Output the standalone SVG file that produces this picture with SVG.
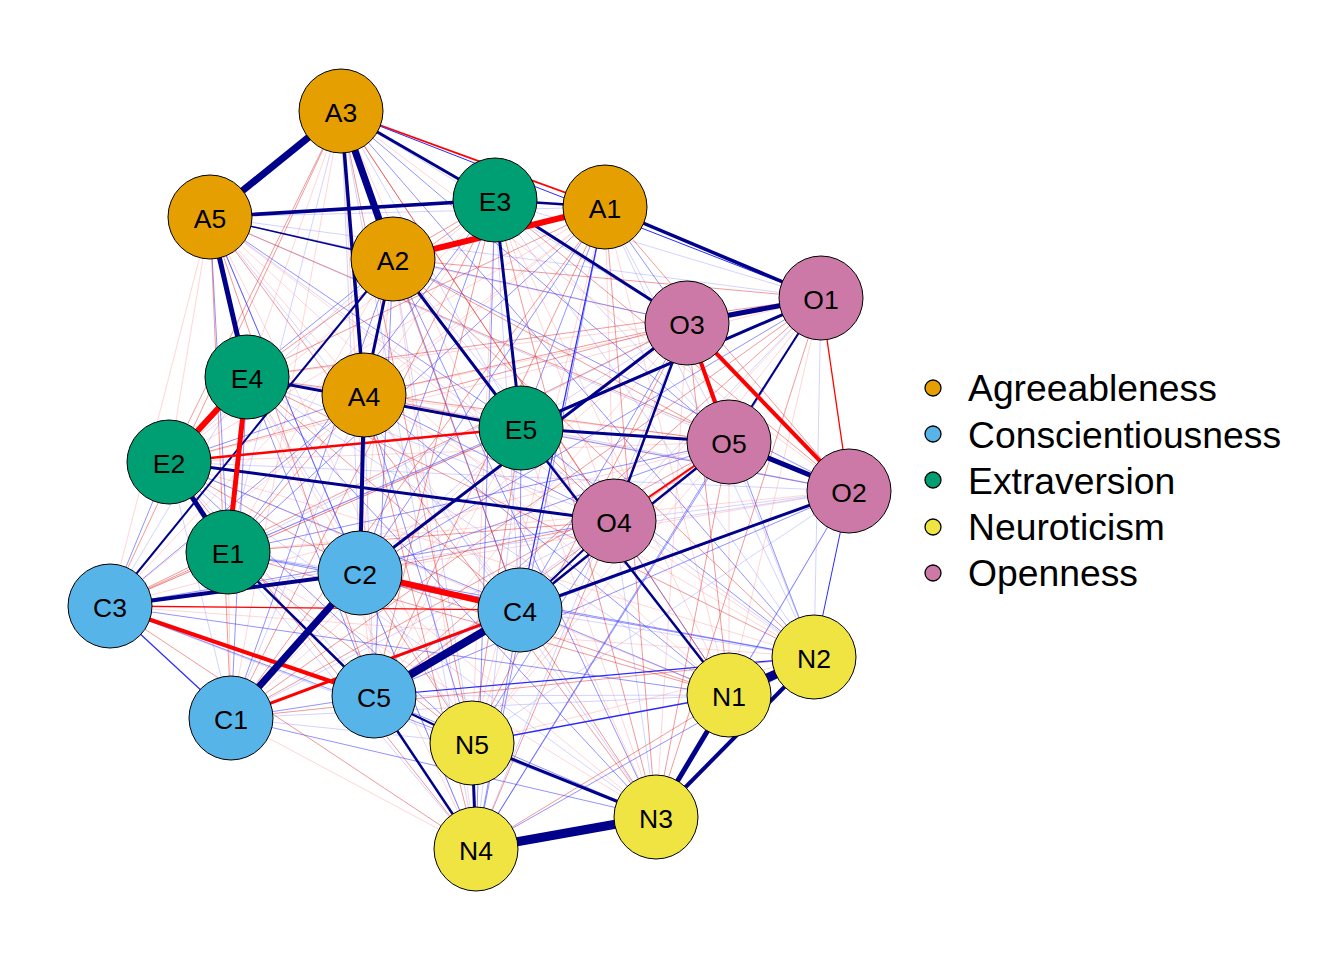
<svg xmlns="http://www.w3.org/2000/svg" width="1344" height="960" viewBox="0 0 1344 960">
<style>
.f{fill:none;stroke-width:1}
.b1{stroke:#3a3aff;stroke-opacity:.55}
.b2{stroke:#8c8cff;stroke-opacity:.38}
.r1{stroke:#e02020;stroke-opacity:.45}
.r2{stroke:#ff8080;stroke-opacity:.32}
.p{stroke:#00008B}
.pl{stroke:#2a2aff}
.n{stroke:#FF0000}
.node circle{stroke:#000;stroke-width:1}
.node text{font-family:"Liberation Sans",Arial,sans-serif;font-size:26.5px;text-anchor:middle;fill:#000}
.A circle{fill:#E69F00}.C circle{fill:#56B4E9}.E circle{fill:#009E73}.N circle{fill:#F0E442}.O circle{fill:#CC79A7}
.leg text{font-family:"Liberation Sans",Arial,sans-serif;font-size:37.3px;fill:#000}
.leg circle{stroke:#000;stroke-width:1.3}
</style>
<rect width="1344" height="960" fill="#fff"/>
<g id="connectors">
<path class="f b2" d="M605 207L210 217M605 207L814 657M605 207L729 442M393 259L169 462M393 259L729 695M393 259L472 743M393 259L614 521M341 111L360 573M341 111L228 552M341 111L521 428M341 111L476 849M341 111L687 323M364 395L231 718M364 395L374 696M364 395L247 377M364 395L656 817M364 395L849 491M210 217L520 610M210 217L814 657M210 217L821 298M210 217L729 442M231 718L169 462M231 718L729 695M231 718L472 743M231 718L614 521M360 573L228 552M360 573L521 428M360 573L476 849M110 606L247 377M110 606L656 817M110 606L849 491M520 610L495 200M520 610L814 657M520 610L821 298M374 696L169 462M374 696L729 695M374 696L614 521M228 552L521 428M228 552L476 849M228 552L687 323M169 462L656 817M169 462L849 491M495 200L814 657M495 200L821 298M495 200L729 442M247 377L729 695M247 377L472 743M247 377L614 521M521 428L476 849M521 428L687 323M729 695L849 491M814 657L821 298M814 657L729 442M656 817L614 521M476 849L687 323M472 743L849 491M849 491L614 521"/>
<path class="f r2" d="M605 207L364 395M605 207L110 606M605 207L169 462M605 207L729 695M605 207L472 743M605 207L614 521M393 259L360 573M393 259L228 552M393 259L476 849M393 259L687 323M341 111L231 718M341 111L374 696M341 111L247 377M341 111L656 817M341 111L849 491M364 395L210 217M364 395L520 610M364 395L495 200M364 395L814 657M364 395L821 298M364 395L729 442M210 217L110 606M210 217L169 462M210 217L729 695M210 217L472 743M210 217L614 521M231 718L228 552M231 718L521 428M231 718L476 849M231 718L687 323M360 573L374 696M360 573L247 377M360 573L656 817M360 573L849 491M110 606L495 200M110 606L814 657M110 606L821 298M110 606L729 442M520 610L169 462M520 610L729 695M520 610L472 743M374 696L521 428M374 696L687 323M228 552L656 817M228 552L849 491M169 462L495 200M169 462L814 657M169 462L821 298M169 462L729 442M495 200L729 695M495 200L472 743M495 200L614 521M247 377L476 849M247 377L687 323M521 428L656 817M521 428L849 491M729 695L821 298M729 695L729 442M814 657L472 743M814 657L614 521M656 817L687 323M472 743L821 298M472 743L729 442M821 298L614 521"/>
<path class="f b1" d="M605 207L360 573M605 207L228 552M605 207L521 428M605 207L476 849M605 207L687 323M393 259L231 718M393 259L374 696M393 259L247 377M393 259L656 817M393 259L849 491M341 111L520 610M341 111L814 657M341 111L729 442M364 395L110 606M364 395L169 462M364 395L729 695M364 395L472 743M364 395L614 521M210 217L360 573M210 217L228 552M210 217L521 428M210 217L476 849M210 217L687 323M231 718L374 696M231 718L247 377M231 718L656 817M231 718L849 491M360 573L495 200M360 573L814 657M360 573L821 298M360 573L729 442M110 606L169 462M110 606L729 695M110 606L472 743M110 606L614 521M520 610L228 552M520 610L521 428M520 610L476 849M520 610L687 323M374 696L247 377M374 696L656 817M374 696L849 491M228 552L495 200M228 552L814 657M228 552L821 298M228 552L729 442M169 462L729 695M169 462L472 743M495 200L476 849M247 377L656 817M247 377L849 491M521 428L814 657M729 695L614 521M814 657L476 849M814 657L687 323M656 817L849 491M476 849L821 298M476 849L729 442M472 743L614 521"/>
<path class="f r1" d="M605 207L231 718M605 207L374 696M605 207L247 377M605 207L656 817M605 207L849 491M393 259L520 610M393 259L495 200M393 259L814 657M393 259L821 298M393 259L729 442M341 111L110 606M341 111L169 462M341 111L729 695M341 111L472 743M341 111L614 521M364 395L228 552M364 395L521 428M364 395L476 849M364 395L687 323M210 217L231 718M210 217L374 696M210 217L656 817M210 217L849 491M231 718L495 200M231 718L814 657M231 718L821 298M231 718L729 442M360 573L169 462M360 573L729 695M360 573L472 743M360 573L614 521M110 606L228 552M110 606L521 428M110 606L476 849M110 606L687 323M520 610L247 377M520 610L656 817M374 696L495 200M374 696L821 298M374 696L729 442M228 552L729 695M228 552L472 743M228 552L614 521M169 462L476 849M169 462L687 323M495 200L247 377M495 200L656 817M495 200L849 491M247 377L814 657M247 377L821 298M247 377L729 442M521 428L472 743M521 428L614 521M729 695L476 849M729 695L687 323M656 817L821 298M656 817L729 442M476 849L614 521M472 743L687 323"/>
<line class="n" x1="341" y1="111" x2="605" y2="207" stroke-width="1.8"/>
<line class="pl" x1="341" y1="111" x2="821" y2="298" stroke-width="1"/>
<line class="pl" x1="814" y1="657" x2="849" y2="491" stroke-width="1"/>
<line class="n" x1="821" y1="298" x2="849" y2="491" stroke-width="1.3"/>
<line class="pl" x1="605" y1="207" x2="520" y2="610" stroke-width="1.2"/>
<line class="pl" x1="110" y1="606" x2="231" y2="718" stroke-width="1.2"/>
<line class="pl" x1="374" y1="696" x2="814" y2="657" stroke-width="1.2"/>
<line class="pl" x1="472" y1="743" x2="729" y2="695" stroke-width="1.5"/>
<line class="p" x1="210" y1="217" x2="393" y2="259" stroke-width="1.5"/>
<line class="n" x1="110" y1="606" x2="520" y2="610" stroke-width="1.3"/>
<line class="n" x1="614" y1="521" x2="729" y2="442" stroke-width="2"/>
<line class="p" x1="821" y1="298" x2="729" y2="442" stroke-width="2"/>
<line class="p" x1="520" y1="610" x2="614" y2="521" stroke-width="2"/>
<line class="p" x1="110" y1="606" x2="393" y2="259" stroke-width="2"/>
<line class="p" x1="374" y1="696" x2="472" y2="743" stroke-width="2"/>
<line class="n" x1="169" y1="462" x2="521" y2="428" stroke-width="2.5"/>
<line class="n" x1="231" y1="718" x2="520" y2="610" stroke-width="3"/>
<line class="p" x1="228" y1="552" x2="374" y2="696" stroke-width="2.5"/>
<line class="p" x1="374" y1="696" x2="476" y2="849" stroke-width="2.5"/>
<line class="p" x1="521" y1="428" x2="729" y2="695" stroke-width="2.5"/>
<line class="p" x1="520" y1="610" x2="729" y2="442" stroke-width="2.5"/>
<line class="p" x1="687" y1="323" x2="614" y2="521" stroke-width="2.5"/>
<line class="p" x1="495" y1="200" x2="605" y2="207" stroke-width="2.5"/>
<line class="p" x1="341" y1="111" x2="495" y2="200" stroke-width="3"/>
<line class="p" x1="393" y1="259" x2="521" y2="428" stroke-width="3"/>
<line class="p" x1="393" y1="259" x2="364" y2="395" stroke-width="3"/>
<line class="p" x1="495" y1="200" x2="521" y2="428" stroke-width="3"/>
<line class="p" x1="495" y1="200" x2="687" y2="323" stroke-width="3"/>
<line class="p" x1="821" y1="298" x2="521" y2="428" stroke-width="3"/>
<line class="p" x1="247" y1="377" x2="521" y2="428" stroke-width="3"/>
<line class="p" x1="169" y1="462" x2="614" y2="521" stroke-width="3"/>
<line class="p" x1="520" y1="610" x2="849" y2="491" stroke-width="3"/>
<line class="p" x1="521" y1="428" x2="729" y2="442" stroke-width="3"/>
<line class="p" x1="687" y1="323" x2="360" y2="573" stroke-width="3"/>
<line class="p" x1="472" y1="743" x2="476" y2="849" stroke-width="3"/>
<line class="p" x1="472" y1="743" x2="656" y2="817" stroke-width="3"/>
<line class="p" x1="605" y1="207" x2="821" y2="298" stroke-width="3.5"/>
<line class="p" x1="341" y1="111" x2="364" y2="395" stroke-width="3.5"/>
<line class="p" x1="210" y1="217" x2="495" y2="200" stroke-width="3.5"/>
<line class="p" x1="364" y1="395" x2="360" y2="573" stroke-width="4"/>
<line class="p" x1="110" y1="606" x2="360" y2="573" stroke-width="4"/>
<line class="n" x1="110" y1="606" x2="374" y2="696" stroke-width="4"/>
<line class="n" x1="687" y1="323" x2="729" y2="442" stroke-width="4"/>
<line class="n" x1="687" y1="323" x2="849" y2="491" stroke-width="4"/>
<line class="p" x1="656" y1="817" x2="814" y2="657" stroke-width="4"/>
<line class="p" x1="210" y1="217" x2="247" y2="377" stroke-width="5"/>
<line class="p" x1="687" y1="323" x2="821" y2="298" stroke-width="5"/>
<line class="p" x1="169" y1="462" x2="228" y2="552" stroke-width="5"/>
<line class="n" x1="247" y1="377" x2="228" y2="552" stroke-width="5"/>
<line class="p" x1="729" y1="442" x2="849" y2="491" stroke-width="5"/>
<line class="p" x1="656" y1="817" x2="729" y2="695" stroke-width="5"/>
<line class="n" x1="247" y1="377" x2="169" y2="462" stroke-width="6"/>
<line class="n" x1="393" y1="259" x2="605" y2="207" stroke-width="6"/>
<line class="n" x1="360" y1="573" x2="520" y2="610" stroke-width="6"/>
<line class="p" x1="341" y1="111" x2="210" y2="217" stroke-width="7"/>
<line class="p" x1="341" y1="111" x2="393" y2="259" stroke-width="7"/>
<line class="p" x1="360" y1="573" x2="231" y2="718" stroke-width="7"/>
<line class="p" x1="374" y1="696" x2="520" y2="610" stroke-width="8"/>
<line class="p" x1="476" y1="849" x2="656" y2="817" stroke-width="9"/>
<line class="p" x1="729" y1="695" x2="814" y2="657" stroke-width="9"/>
</g>
<g id="A1" class="node A"><circle cx="605" cy="207" r="42"/><text x="605" y="217.5">A1</text></g>
<g id="A2" class="node A"><circle cx="393" cy="259" r="42"/><text x="393" y="269.5">A2</text></g>
<g id="A3" class="node A"><circle cx="341" cy="111" r="42"/><text x="341" y="121.5">A3</text></g>
<g id="A4" class="node A"><circle cx="364" cy="395" r="42"/><text x="364" y="405.5">A4</text></g>
<g id="A5" class="node A"><circle cx="210" cy="217" r="42"/><text x="210" y="227.5">A5</text></g>
<g id="C1" class="node C"><circle cx="231" cy="718" r="42"/><text x="231" y="728.5">C1</text></g>
<g id="C2" class="node C"><circle cx="360" cy="573" r="42"/><text x="360" y="583.5">C2</text></g>
<g id="C3" class="node C"><circle cx="110" cy="606" r="42"/><text x="110" y="616.5">C3</text></g>
<g id="C4" class="node C"><circle cx="520" cy="610" r="42"/><text x="520" y="620.5">C4</text></g>
<g id="C5" class="node C"><circle cx="374" cy="696" r="42"/><text x="374" y="706.5">C5</text></g>
<g id="E1" class="node E"><circle cx="228" cy="552" r="42"/><text x="228" y="562.5">E1</text></g>
<g id="E2" class="node E"><circle cx="169" cy="462" r="42"/><text x="169" y="472.5">E2</text></g>
<g id="E3" class="node E"><circle cx="495" cy="200" r="42"/><text x="495" y="210.5">E3</text></g>
<g id="E4" class="node E"><circle cx="247" cy="377" r="42"/><text x="247" y="387.5">E4</text></g>
<g id="E5" class="node E"><circle cx="521" cy="428" r="42"/><text x="521" y="438.5">E5</text></g>
<g id="N1" class="node N"><circle cx="729" cy="695" r="42"/><text x="729" y="705.5">N1</text></g>
<g id="N2" class="node N"><circle cx="814" cy="657" r="42"/><text x="814" y="667.5">N2</text></g>
<g id="N3" class="node N"><circle cx="656" cy="817" r="42"/><text x="656" y="827.5">N3</text></g>
<g id="N4" class="node N"><circle cx="476" cy="849" r="42"/><text x="476" y="859.5">N4</text></g>
<g id="N5" class="node N"><circle cx="472" cy="743" r="42"/><text x="472" y="753.5">N5</text></g>
<g id="O1" class="node O"><circle cx="821" cy="298" r="42"/><text x="821" y="308.5">O1</text></g>
<g id="O2" class="node O"><circle cx="849" cy="491" r="42"/><text x="849" y="501.5">O2</text></g>
<g id="O3" class="node O"><circle cx="687" cy="323" r="42"/><text x="687" y="333.5">O3</text></g>
<g id="O4" class="node O"><circle cx="614" cy="521" r="42"/><text x="614" y="531.5">O4</text></g>
<g id="O5" class="node O"><circle cx="729" cy="442" r="42"/><text x="729" y="452.5">O5</text></g>
<g id="legend" class="leg">
<circle cx="933" cy="388" r="8" fill="#E69F00"/><text x="968" y="401">Agreeableness</text>
<circle cx="933" cy="434" r="8" fill="#56B4E9"/><text x="968" y="447.5">Conscientiousness</text>
<circle cx="933" cy="480" r="8" fill="#009E73"/><text x="968" y="494">Extraversion</text>
<circle cx="933" cy="527" r="8" fill="#F0E442"/><text x="968" y="540">Neuroticism</text>
<circle cx="933" cy="573" r="8" fill="#CC79A7"/><text x="968" y="586">Openness</text>
</g>
</svg>
